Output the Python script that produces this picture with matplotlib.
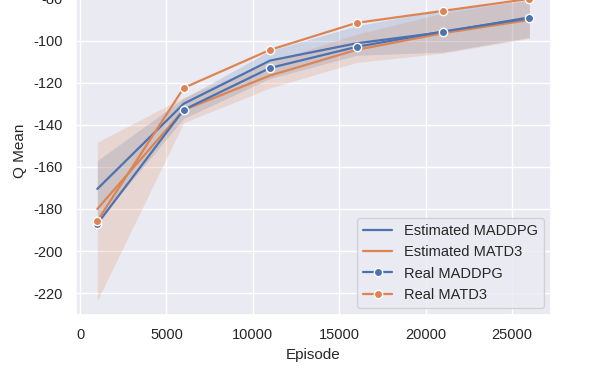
import matplotlib
matplotlib.use("Agg")
import matplotlib.pyplot as plt
import seaborn as sns

sns.set_theme(style="darkgrid")
plt.rcParams['font.family'] = ['Liberation Sans', 'DejaVu Sans']
plt.rcParams['axes.unicode_minus'] = False

episodes = [1000, 6000, 11000, 16000, 21000, 26000]

# estimated Q (mean and band)
est_maddpg = [-170.5, -130.0, -109.5, -101.3, -96.0, -89.0]
est_maddpg_lo = [-186.0, -137.0, -118.0, -107.0, -105.5, -98.5]
est_maddpg_hi = [-157.0, -127.5, -104.8, -93.0, -85.5, -81.0]

est_matd3 = [-180.0, -133.0, -116.6, -104.4, -96.5, -90.2]
est_matd3_lo = [-223.6, -139.0, -122.5, -110.4, -106.0, -99.0]
est_matd3_hi = [-148.3, -127.0, -110.0, -97.0, -87.0, -80.5]

# real Q
real_maddpg = [-187.1, -132.9, -113.0, -103.0, -95.7, -89.4]
real_matd3 = [-185.7, -122.5, -104.4, -91.6, -85.9, -80.2]

blue = sns.color_palette("deep")[0]
orange = sns.color_palette("deep")[1]

fig = plt.figure(figsize=(5.98, 3.85), dpi=100)
ax = fig.add_axes([0.1266, 0.1818, 0.7948, 0.855])

ax.fill_between(episodes, est_maddpg_lo, est_maddpg_hi, color=blue, alpha=0.2, linewidth=0)
ax.fill_between(episodes, est_matd3_lo, est_matd3_hi, color=orange, alpha=0.2, linewidth=0)
ax.plot(episodes, est_maddpg, color=blue, linewidth=1.6, label='Estimated MADDPG')
ax.plot(episodes, est_matd3, color=orange, linewidth=1.6, label='Estimated MATD3')
ax.plot(episodes, real_maddpg, color=blue, linewidth=1.6, marker='o', markersize=6,
        markeredgecolor='white', markeredgewidth=1, label='Real MADDPG')
ax.plot(episodes, real_matd3, color=orange, linewidth=1.6, marker='o', markersize=6,
        markeredgecolor='white', markeredgewidth=1, label='Real MATD3')

ax.set_xlim(-250, 27250)
ax.set_ylim(-230.4, -74)
ax.set_xticks([0, 5000, 10000, 15000, 20000, 25000])
ax.set_yticks([-220, -200, -180, -160, -140, -120, -100, -80])
ax.tick_params(labelsize=10.5)
ax.set_xlabel('Episode', fontsize=11)
ax.set_ylabel('Q Mean', fontsize=11)
ax.legend(loc='lower right', fontsize=10.5)

fig.savefig('out.png', dpi=100)
